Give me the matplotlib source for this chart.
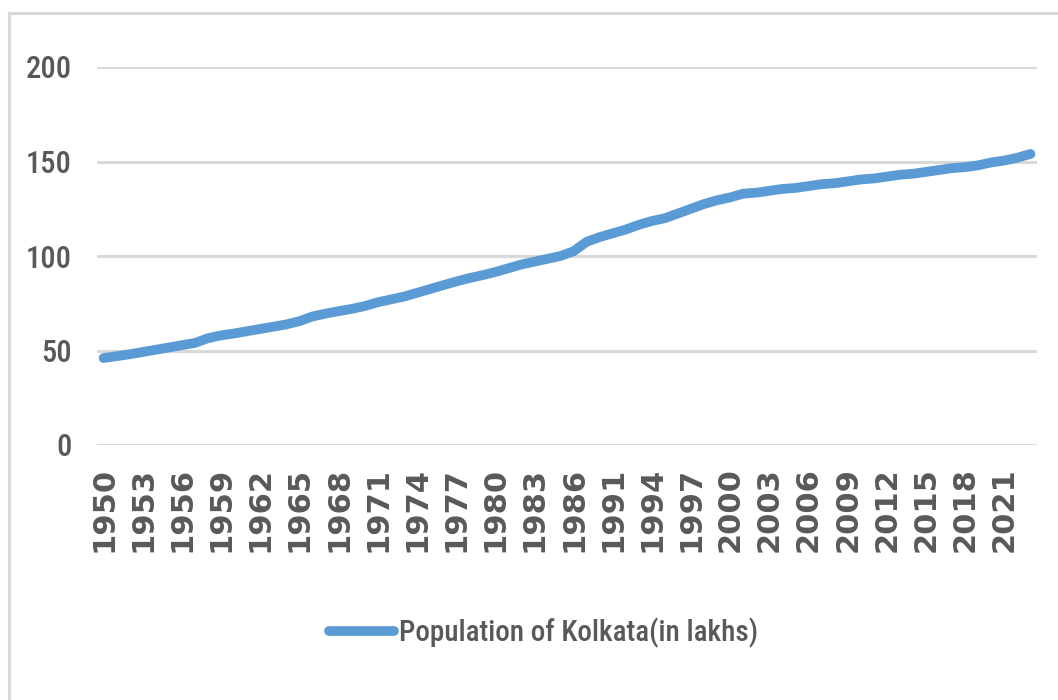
import matplotlib
matplotlib.use("Agg")
import matplotlib.pyplot as plt
from matplotlib.patches import Rectangle

# years on the category axis (1988 and 1989 not in the series)
years = list(range(1950, 1988)) + list(range(1990, 2024))

# population of Kolkata, in lakhs
population = [
    46.0, 47.0, 48.0, 49.2, 50.4, 51.6, 52.8, 54.0, 56.5, 58.0,
    59.0, 60.2, 61.4, 62.6, 63.8, 65.5, 68.0, 69.5, 70.8, 72.0,
    73.5, 75.5, 77.0, 78.5, 80.5, 82.5, 84.5, 86.5, 88.3, 89.8,
    91.5, 93.5, 95.5, 97.0, 98.5, 100.0, 102.5, 107.5,
    110.0, 112.0, 114.0, 116.5, 118.5, 120.0, 122.5, 125.0, 127.5, 129.5,
    131.0, 133.0, 133.5, 134.5, 135.5, 136.0, 137.0, 138.0, 138.5, 139.5,
    140.5, 141.0, 142.0, 143.0, 143.5, 144.5, 145.5, 146.5, 147.0, 148.0,
    149.5, 150.5, 152.0, 154.0,
]

series_name = "Population of Kolkata(in lakhs)"
y_ticks = [0, 50, 100, 150, 200]

narrow = ["Roboto Condensed", "Roboto", "DejaVu Sans"]
grey_text = "#595959"
line_blue = "#5b9bd5"

fig = plt.figure(figsize=(10.58, 7.0), dpi=100)
fig.patch.set_facecolor("white")

# chart area frame
fig.patches.append(Rectangle((9 / 1058, -0.1), 1.2, 1 - 13 / 700 + 0.1,
                             transform=fig.transFigure, fill=False,
                             edgecolor="#d9d9d9", linewidth=2.2))

ax = fig.add_axes([97 / 1058, 1 - 445 / 700, (1037 - 97) / 1058, (445 - 67) / 700])

x = list(range(len(years)))
line, = ax.plot(x, population, color=line_blue, linewidth=7,
                solid_capstyle="round", solid_joinstyle="round",
                label=series_name, zorder=3)

ax.set_xlim(-0.5, len(years) - 0.5)
ax.set_ylim(0, 200)

ax.set_yticks(y_ticks)
ax.set_yticklabels([str(v) for v in y_ticks], family=narrow, fontsize=22,
                   fontweight="medium", color=grey_text)
ax.tick_params(axis="y", length=0, pad=18)

ax.set_xticks(x[::3])
ax.set_xticklabels([str(years[i]) for i in x[::3]], rotation=90,
                   family="DejaVu Sans", fontweight="bold", fontsize=22,
                   color=grey_text)
ax.tick_params(axis="x", length=0, pad=16)

ax.grid(axis="y", color="#d9d9d9", linewidth=2.2)
ax.set_axisbelow(True)
for side in ax.spines.values():
    side.set_visible(False)

leg = fig.legend(handles=[line], loc="center", bbox_to_anchor=(544 / 1058, 1 - 633 / 700),
                 frameon=False, handlelength=2.2, handletextpad=0.2,
                 prop={"family": narrow, "size": 21, "weight": "medium"})
for t in leg.get_texts():
    t.set_color(grey_text)

fig.savefig("out.png", dpi=100)
